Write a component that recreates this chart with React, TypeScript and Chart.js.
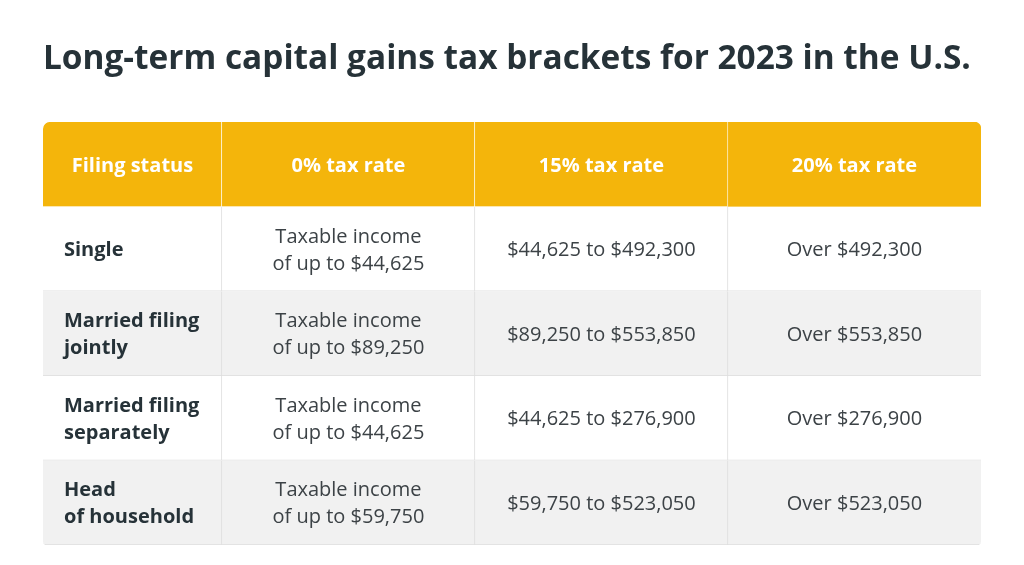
import React, { useEffect, useRef } from "react";
import { Chart, registerables } from "chart.js";

Chart.register(...registerables);

// ---- data ----
const TITLE = "Long-term capital gains tax brackets for 2023 in the U.S.";
const COLUMN_HEADERS = ["Filing status", "0% tax rate", "15% tax rate", "20% tax rate"];
const FILING_STATUS = [
  ["Single"],
  ["Married filing", "jointly"],
  ["Married filing", "separately"],
  ["Head", "of household"],
];
const RATE_0 = [
  ["Taxable income", "of up to $44,625"],
  ["Taxable income", "of up to $89,250"],
  ["Taxable income", "of up to $44,625"],
  ["Taxable income", "of up to $59,750"],
];
const RATE_15 = ["$44,625 to $492,300", "$89,250 to $553,850", "$44,625 to $276,900", "$59,750 to $523,050"];
const RATE_20 = ["Over $492,300", "Over $553,850", "Over $276,900", "Over $523,050"];

// ---- layout / style constants ----
const COL_WIDTHS = [0.707, 1, 1, 1];
const FONT = '"Open Sans", sans-serif';
const HEADER_BG = "#f4b50b";
const ROW_BG = ["#ffffff", "#f1f1f1"];
const BODY_LINE = "#dedede";
const HEADER_LINE = "rgba(255,255,255,0.55)";
const TITLE_COLOR = "#263238";
const LABEL_COLOR = "#263238";
const TEXT_COLOR = "#3c4246";

export default function App() {
  const ref = useRef<HTMLCanvasElement | null>(null);

  useEffect(() => {
    if (!ref.current) return;
    const edges: number[] = [0];
    COL_WIDTHS.forEach((w) => edges.push(edges[edges.length - 1] + w));
    const rowLabels = ["header", ...FILING_STATUS.map((l) => l.join(" "))];
    const nRows = rowLabels.length;
    const nCols = COLUMN_HEADERS.length;

    const cellText = (r: number, c: number): string[] => {
      if (r === 0) return [COLUMN_HEADERS[c]];
      const i = r - 1;
      if (c === 0) return FILING_STATUS[i];
      if (c === 1) return RATE_0[i];
      if (c === 2) return [RATE_15[i]];
      return [RATE_20[i]];
    };

    const datasets = COLUMN_HEADERS.map((h, c) => ({
      label: h,
      data: rowLabels.map(() => [edges[c], edges[c + 1]] as [number, number]),
      grouped: false,
      barPercentage: 1,
      categoryPercentage: 1,
      borderSkipped: false as const,
      backgroundColor: (ctx: any) => (ctx.dataIndex === 0 ? HEADER_BG : ROW_BG[(ctx.dataIndex - 1) % 2]),
      borderColor: (ctx: any) => (ctx.dataIndex === 0 ? HEADER_LINE : BODY_LINE),
      borderWidth: (ctx: any) => ({
        top: 0,
        left: 0,
        right: ctx.datasetIndex < nCols - 1 ? 1 : 0,
        bottom: ctx.dataIndex > 0 ? 1 : 0,
      }),
      borderRadius: (ctx: any) => {
        const r = ctx.dataIndex;
        const c2 = ctx.datasetIndex;
        return {
          topLeft: r === 0 && c2 === 0 ? 7 : 0,
          topRight: r === 0 && c2 === nCols - 1 ? 7 : 0,
          bottomLeft: r === nRows - 1 && c2 === 0 ? 4 : 0,
          bottomRight: r === nRows - 1 && c2 === nCols - 1 ? 4 : 0,
        };
      },
    }));

    const textPlugin = {
      id: "cellText",
      afterDatasetsDraw(chart: any) {
        const { ctx } = chart;
        const xs = chart.scales.x;
        const ys = chart.scales.y;
        const lh = 27;
        ctx.save();
        ctx.textBaseline = "middle";
        for (let r = 0; r < nRows; r++) {
          const cy = ys.getPixelForValue(r) + (r === 0 ? 2 : 1.5);
          for (let c = 0; c < nCols; c++) {
            const lines = cellText(r, c);
            const x0 = xs.getPixelForValue(edges[c]);
            const x1 = xs.getPixelForValue(edges[c + 1]);
            let x: number;
            if (r > 0 && c === 0) {
              ctx.textAlign = "left";
              x = x0 + 21;
              ctx.font = `bold 20px ${FONT}`;
              ctx.fillStyle = LABEL_COLOR;
            } else if (r === 0) {
              ctx.textAlign = "center";
              x = (x0 + x1) / 2;
              ctx.font = `bold 20px ${FONT}`;
              ctx.fillStyle = "#ffffff";
            } else {
              ctx.textAlign = "center";
              x = (x0 + x1) / 2;
              ctx.font = `20px ${FONT}`;
              ctx.fillStyle = TEXT_COLOR;
            }
            const start = cy - ((lines.length - 1) * lh) / 2;
            lines.forEach((t, k) => ctx.fillText(t, x, start + k * lh));
          }
        }
        ctx.restore();
      },
    };

    const chart = new Chart(ref.current, {
      type: "bar",
      data: { labels: rowLabels, datasets: datasets as any },
      options: {
        indexAxis: "y",
        animation: false,
        responsive: false,
        events: [],
        layout: { padding: { left: 43, right: 43, top: 0, bottom: 20 } },
        scales: {
          x: { type: "linear", min: 0, max: edges[edges.length - 1], display: false },
          y: { type: "category", display: false, offset: true },
        },
        plugins: {
          legend: { display: false },
          tooltip: { enabled: false },
          title: {
            display: true,
            text: TITLE,
            align: "start",
            color: TITLE_COLOR,
            font: { family: FONT, size: 33.4, weight: "bold" },
            padding: { top: 39.2, bottom: 42.7 },
          },
        },
      },
      plugins: [textPlugin],
    });
    if ((document as any).fonts && (document as any).fonts.ready) {
      (document as any).fonts.ready.then(() => chart.draw());
    }
    return () => chart.destroy();
  }, []);

  return (
    <div style={{ position: "absolute", left: 0, top: 0, width: 1024, height: 565, background: "#fff" }}>
      <canvas ref={ref} width={1024} height={565} />
    </div>
  );
}
